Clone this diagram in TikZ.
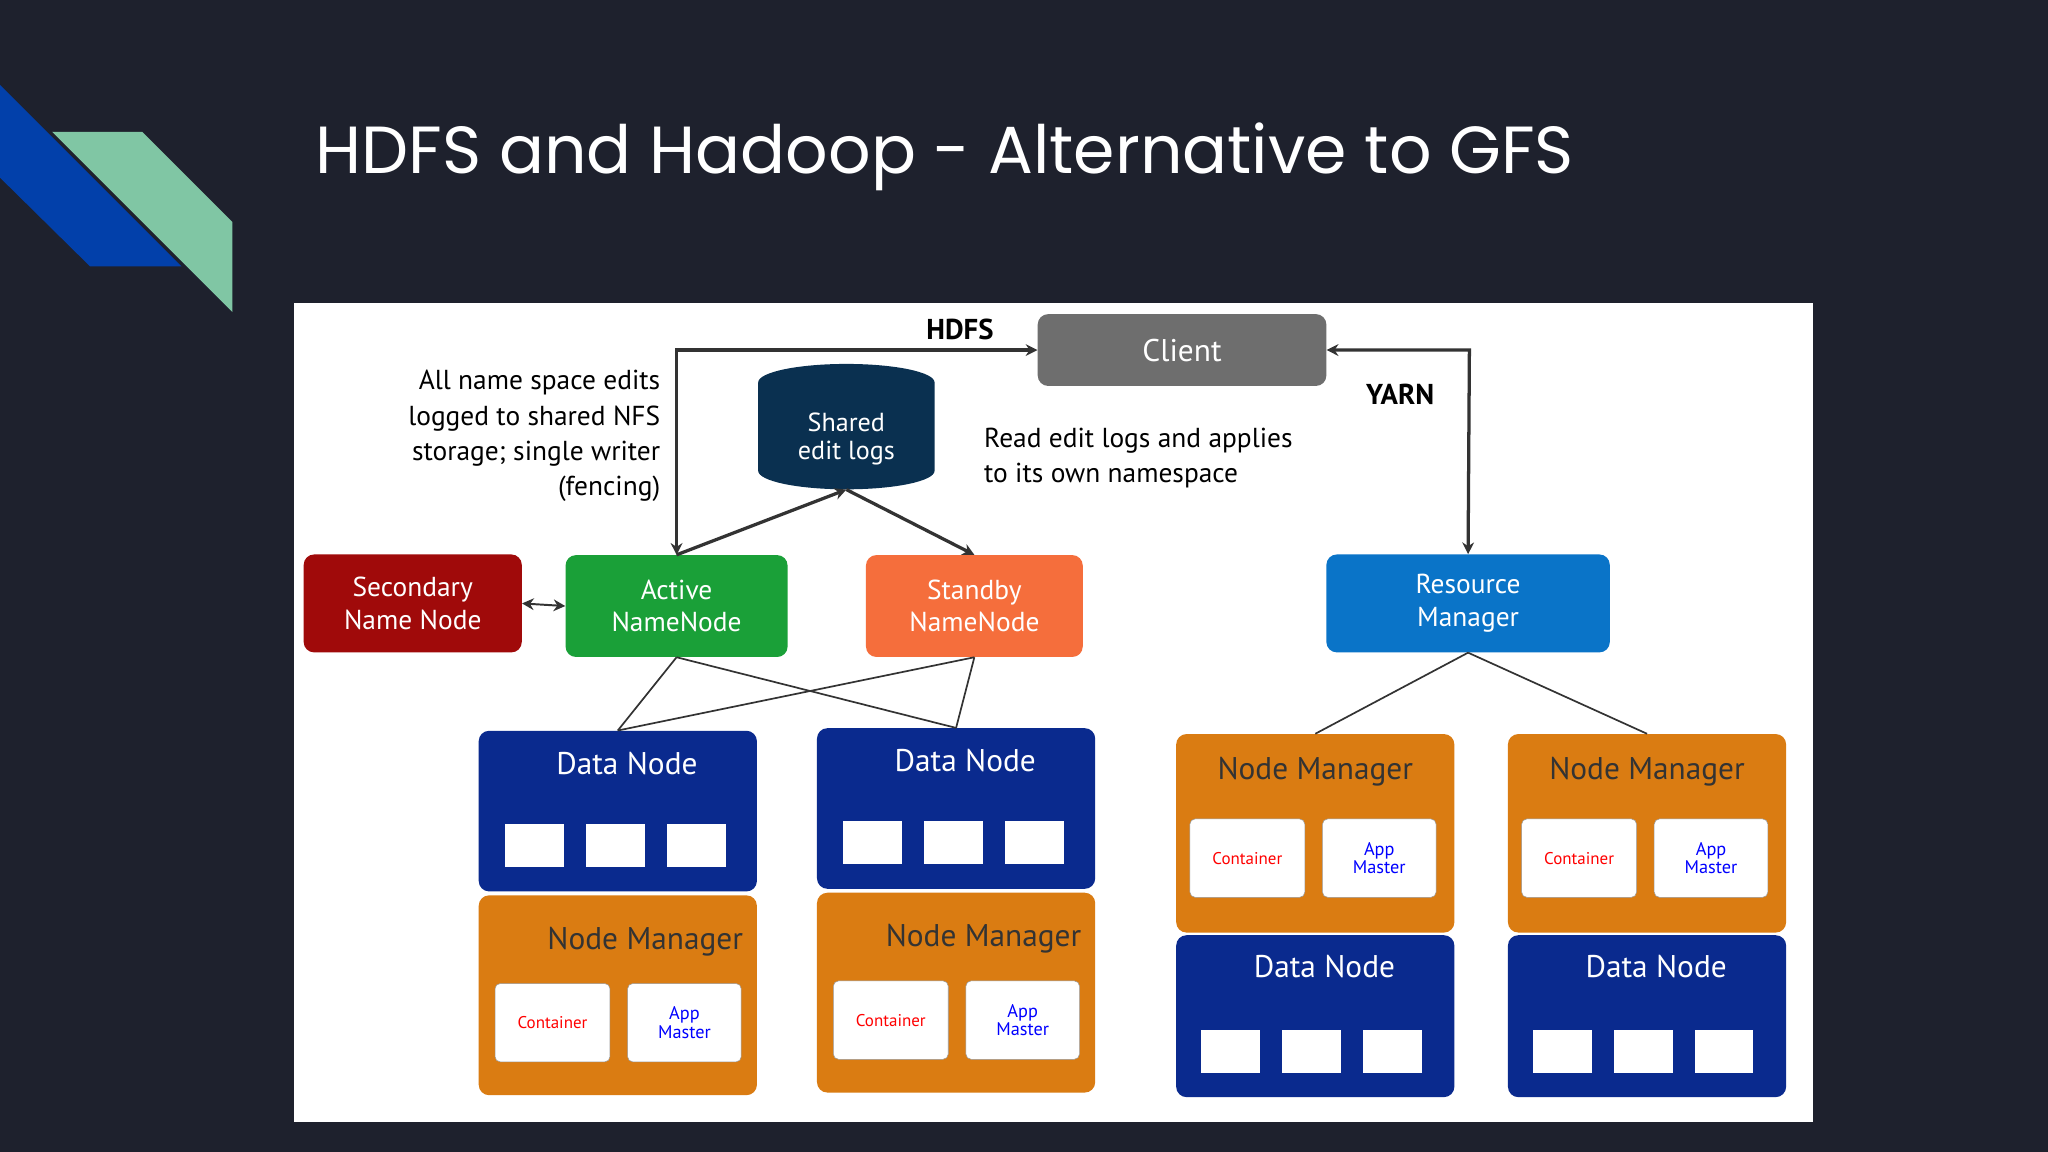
\documentclass[tikz,border=0pt]{standalone}
\usepackage{fontspec}
\setmainfont{PT Sans}
\newfontfamily\titlefont{Poppins}
\usetikzlibrary{shapes.geometric, arrows, arrows.meta, positioning, calc}

\definecolor{slidebg}{RGB}{30,33,45}
\definecolor{logoblue}{RGB}{2,64,170}
\definecolor{logogreen}{RGB}{128,198,164}
\definecolor{clientgray}{RGB}{110,110,110}
\definecolor{logsnavy}{RGB}{10,48,80}
\definecolor{secred}{RGB}{160,10,10}
\definecolor{actgreen}{RGB}{26,160,56}
\definecolor{stbyorange}{RGB}{245,110,60}
\definecolor{rmblue}{RGB}{10,116,200}
\definecolor{dnnavy}{RGB}{10,42,142}
\definecolor{nmorange}{RGB}{218,124,18}

\begin{document}
\begin{tikzpicture}[
    x=1pt, y=-1pt,
    box/.style={rectangle, rounded corners=8pt, draw=none, text=white, align=center, inner sep=0pt},
    small/.style={rectangle, rounded corners=4pt, fill=white, draw=black!40, inner sep=0pt, minimum width=88pt, minimum height=60pt, align=center, font=\fontsize{13}{13}\selectfont},
    slot/.style={rectangle, fill=white, inner sep=0pt, minimum width=45pt, minimum height=33pt},
    arrow/.style={-{Stealth[length=9pt,width=9pt]}, line width=2.5pt, draw=black!80},
    twoway/.style={{Stealth[length=9pt,width=9pt]}-{Stealth[length=9pt,width=9pt]}, line width=2.5pt, draw=black!80},
    link/.style={line width=1.3pt, draw=black!80}
]
\useasboundingbox (0,0) rectangle (1568,882);
\fill[slidebg] (0,0) rectangle (1568,882);

% logo
\fill[logoblue] (0,65) -- (139,204) -- (69,204) -- (0,136) -- cycle;
\fill[logogreen] (40,101) -- (109,101) -- (178,170) -- (178,239) -- cycle;

\node[anchor=base west, text=white, font=\titlefont\fontsize{51}{51}\selectfont] (title) at (238,133) {HDFS and Hadoop - Alternative to GFS};

% panel
\fill[white] (225,232) rectangle (1388,859);

% top row
\node[box, fill=clientgray, minimum width=221pt, minimum height=55pt, font=\fontsize{24}{24}\selectfont] (client) at (905,268) {Client};
\node[cylinder, shape border rotate=90, aspect=0.35, fill=logsnavy, text=white, minimum width=135pt, minimum height=96pt, align=center, font=\fontsize{20}{22}\selectfont] (logs) at (648,336) {Shared\\edit logs};
\node[anchor=north east, align=right, font=\fontsize{21}{27}\selectfont] (notea) at (509,280) {All name space edits\\logged to shared NFS\\storage; single writer\\(fencing)};
\node[anchor=north west, align=left, font=\fontsize{21}{27}\selectfont] (noteb) at (750,324) {Read edit logs and applies\\to its own namespace};

% name nodes
\node[box, fill=secred, minimum width=167pt, minimum height=75pt, font=\fontsize{21}{25}\selectfont] (sec) at (316,462) {Secondary\\Name Node};
\node[box, fill=actgreen, minimum width=170pt, minimum height=78pt, font=\fontsize{21}{25}\selectfont] (active) at (518,464) {Active\\NameNode};
\node[box, fill=stbyorange, minimum width=166pt, minimum height=78pt, font=\fontsize{21}{25}\selectfont] (stby) at (746,464) {Standby\\NameNode};
\node[box, fill=rmblue, minimum width=217pt, minimum height=75pt, font=\fontsize{21}{25}\selectfont] (rm) at (1124,462) {Resource\\Manager};

\coordinate (hdfsturn) at (518,268);
\coordinate (yarnturn) at (1125,268);
\draw[twoway] (active.north) -- (hdfsturn) -- (client.west);
\draw[twoway] (client.east) -- (yarnturn) -- (rm.north);
\node[font=\bfseries\fontsize{22}{22}\selectfont] (hdfs) at (735,252) {HDFS};
\node[font=\bfseries\fontsize{22}{22}\selectfont] (yarn) at (1072,302) {YARN};
\draw[arrow] (active.north) -- (logs.south);
\draw[arrow] (logs.south) -- (stby.north);
\draw[twoway, line width=1.5pt] (sec.east) -- (active.west);

% worker stacks (data node over node manager)
\foreach \n/\cx/\ty in {one/473/560, two/732/558} {
  \node[box, fill=dnnavy, minimum width=213pt, minimum height=123pt] (dn\n) at (\cx,\ty+61) {};
  \node[anchor=north, text=white, font=\fontsize{24}{24}\selectfont] (dnl\n) at (\cx+7,\ty+12) {Data Node};
  \foreach \k in {-1,0,1}
    \node[slot] (s\n\k) at (\cx+62*\k-2,\ty+87) {};
  \node[box, fill=nmorange, minimum width=213pt, minimum height=153pt] (nm\n) at (\cx,\ty+202) {};
  \node[anchor=north, text=black!80, font=\fontsize{24}{24}\selectfont] (nml\n) at (\cx+21,\ty+146) {Node Manager};
  \node[small, text=red] (ct\n) at (\cx-50,\ty+223) {Container};
  \node[small, text=blue, minimum width=87pt, font=\fontsize{14}{14}\selectfont] (am\n) at (\cx+51,\ty+223) {App\\Master};
}
\foreach \n/\cx in {three/1007, four/1261} {
  \node[box, fill=nmorange, minimum width=213pt, minimum height=152pt] (nm\n) at (\cx,638) {};
  \node[anchor=north, text=black!80, font=\fontsize{24}{24}\selectfont] (nml\n) at (\cx,576) {Node Manager};
  \node[small, text=red] (ct\n) at (\cx-52,657) {Container};
  \node[small, text=blue, minimum width=87pt, font=\fontsize{14}{14}\selectfont] (am\n) at (\cx+49,657) {App\\Master};
  \node[box, fill=dnnavy, minimum width=213pt, minimum height=124pt] (dn\n) at (\cx,778) {};
  \node[anchor=north, text=white, font=\fontsize{24}{24}\selectfont] (dnl\n) at (\cx+7,728) {Data Node};
  \foreach \k in {-1,0,1}
    \node[slot] (s\n\k) at (\cx+62*\k-3,805) {};
}

% links
\draw[link] (active.south) -- (dnone.north);
\draw[link] (active.south) -- (dntwo.north);
\draw[link] (stby.south) -- (dnone.north);
\draw[link] (stby.south) -- (dntwo.north);
\draw[link] (rm.south) -- (nmthree.north);
\draw[link] (rm.south) -- (nmfour.north);
\end{tikzpicture}
\end{document}
